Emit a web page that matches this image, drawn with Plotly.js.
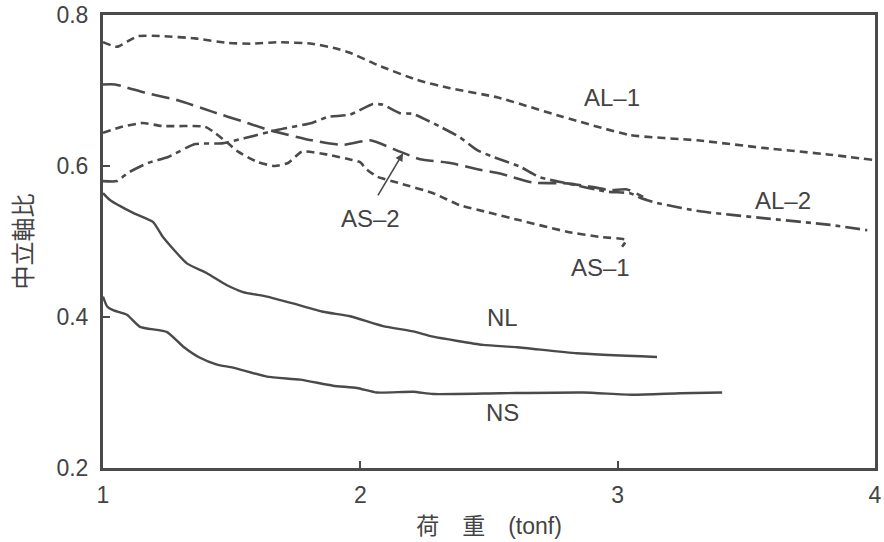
<!DOCTYPE html>
<html>
<head>
<meta charset="utf-8">
<script src="https://cdn.plot.ly/plotly-3.0.1.min.js"></script>
<style>html,body{margin:0;padding:0;background:#fff;}#chart{width:884px;height:542px;}</style>
</head>
<body>
<div id="chart"></div>
<script>
// 荷重 (tonf) vs 中立軸比
const al1X = [1.000,1.054,1.136,1.229,1.358,1.486,1.579,1.680,1.812,1.902,1.960,2.065,2.220,2.349,2.531,2.788,3.048,3.309,3.565,3.826,3.993];
const al1Y = [0.764,0.758,0.772,0.772,0.769,0.763,0.762,0.764,0.762,0.756,0.750,0.734,0.714,0.703,0.691,0.665,0.641,0.634,0.624,0.615,0.608];

const al2X = [1.000,1.054,1.097,1.175,1.253,1.358,1.462,1.552,1.680,1.812,1.874,1.960,2.049,2.088,2.154,2.205,2.310,2.387,2.454,2.516,2.621,2.698,2.803,2.959,3.048,3.087,3.153,3.320,3.565,3.826,3.970];
const al2Y = [0.580,0.580,0.591,0.604,0.612,0.629,0.630,0.637,0.648,0.657,0.665,0.668,0.682,0.681,0.670,0.669,0.652,0.638,0.621,0.612,0.599,0.585,0.577,0.566,0.564,0.558,0.551,0.540,0.531,0.522,0.515];

const as1X = [1.000,1.074,1.155,1.229,1.396,1.435,1.486,1.525,1.602,1.668,1.719,1.773,1.874,1.968,1.999,2.026,2.065,2.154,2.283,2.387,2.492,2.621,2.803,2.932,3.033,3.017];
const as1Y = [0.644,0.652,0.657,0.653,0.652,0.644,0.630,0.619,0.605,0.600,0.604,0.619,0.615,0.608,0.605,0.595,0.586,0.577,0.564,0.548,0.539,0.528,0.513,0.506,0.502,0.493];

const as2X = [1.000,1.047,1.163,1.291,1.424,1.552,1.641,1.812,1.933,2.038,2.154,2.232,2.349,2.465,2.543,2.671,2.803,2.904,2.970,3.037,3.099];
const as2Y = [0.708,0.708,0.697,0.687,0.672,0.658,0.648,0.634,0.628,0.634,0.619,0.609,0.604,0.595,0.590,0.578,0.577,0.572,0.568,0.569,0.559];

const nlX = [1.000,1.027,1.117,1.194,1.233,1.326,1.404,1.482,1.544,1.637,1.738,1.855,1.960,2.088,2.205,2.283,2.477,2.609,2.842,3.153];
const nlY = [0.564,0.555,0.538,0.526,0.506,0.471,0.458,0.442,0.433,0.427,0.418,0.407,0.401,0.388,0.381,0.374,0.363,0.360,0.352,0.347];

const nsX = [1.000,1.016,1.039,1.093,1.144,1.249,1.311,1.377,1.443,1.505,1.637,1.766,1.894,1.987,2.065,2.205,2.283,2.543,2.866,3.060,3.243,3.406];
const nsY = [0.427,0.414,0.409,0.403,0.387,0.380,0.361,0.346,0.337,0.333,0.321,0.317,0.309,0.306,0.300,0.301,0.298,0.299,0.300,0.297,0.299,0.300];

const xTicks = [1,2,3,4];
const xTickText = ['1','2','3','4'];
const yTicks = [0.2,0.4,0.6,0.8];
const yTickText = ['0.2','0.4','0.6','0.8'];

const seriesNames = ['AL–1','AL–2','AS–1','AS–2','NL','NS'];
const labelX = [2.978,3.643,2.932,2.038,2.551,2.551];
const labelY = [0.691,0.554,0.465,0.530,0.400,0.273];
const arrowTail = [2.065,0.559];
const arrowHead = [2.166,0.617];

const xTitle = '荷\u3000重\u3000(tonf)';
const yTitle = '中立軸比';

const lineColor = '#4a4a4a';
const textColor = '#434343';
const fontFam = '"Liberation Sans", Arial, "Noto Sans CJK JP", sans-serif';

function tr(x, y, name, dash, w) {
  return {x: x, y: y, name: name, type: 'scatter', mode: 'lines',
    line: {color: lineColor, width: w, dash: dash, shape: 'spline', smoothing: 0.5},
    hoverinfo: 'skip', showlegend: false};
}

const data = [
  tr(al1X, al1Y, seriesNames[0], '8px,5px', 2.6),
  tr(al2X, al2Y, seriesNames[1], '15px,5px,5px,5px', 2.6),
  tr(as1X, as1Y, seriesNames[2], '8px,5px', 2.6),
  tr(as2X, as2Y, seriesNames[3], '18px,7px', 2.6),
  tr(nlX, nlY, seriesNames[4], 'solid', 2.4),
  tr(nsX, nsY, seriesNames[5], 'solid', 2.4)
];

const annotations = seriesNames.map((n, i) => ({
  x: labelX[i], y: labelY[i], xref: 'x', yref: 'y', text: n, showarrow: false,
  font: {family: fontFam, size: 24, color: textColor}, xanchor: 'center', yanchor: 'middle'
}));
annotations.push({
  x: arrowHead[0], y: arrowHead[1], ax: arrowTail[0], ay: arrowTail[1],
  xref: 'x', yref: 'y', axref: 'x', ayref: 'y', text: '', showarrow: true,
  arrowhead: 2, arrowsize: 1, arrowwidth: 1.6, arrowcolor: lineColor
});

const axisCommon = {
  showline: true, linewidth: 3, linecolor: '#4a4a4a', mirror: true,
  ticks: 'inside', ticklen: 7, tickwidth: 2, tickcolor: '#4a4a4a',
  showgrid: false, zeroline: false,
  tickfont: {family: fontFam, size: 23, color: textColor}
};

const layout = {
  width: 884, height: 542,
  margin: {l: 103, r: 9, t: 15, b: 74},
  paper_bgcolor: '#ffffff', plot_bgcolor: '#ffffff',
  xaxis: Object.assign({}, axisCommon, {
    range: [1, 4], tickvals: xTicks, ticktext: xTickText, ticklabelstandoff: 4,
    title: {text: xTitle, font: {family: fontFam, size: 23, color: textColor}, standoff: 12}
  }),
  yaxis: Object.assign({}, axisCommon, {
    range: [0.2, 0.8], tickvals: yTicks, ticktext: yTickText, ticklabelstandoff: 7,
    title: {text: yTitle, font: {family: '"Noto Sans CJK JP", sans-serif', size: 24, color: textColor}, standoff: 18}
  }),
  annotations: annotations,
  showlegend: false
};

Plotly.newPlot('chart', data, layout, {displayModeBar: false, staticPlot: true});
</script>
</body>
</html>
